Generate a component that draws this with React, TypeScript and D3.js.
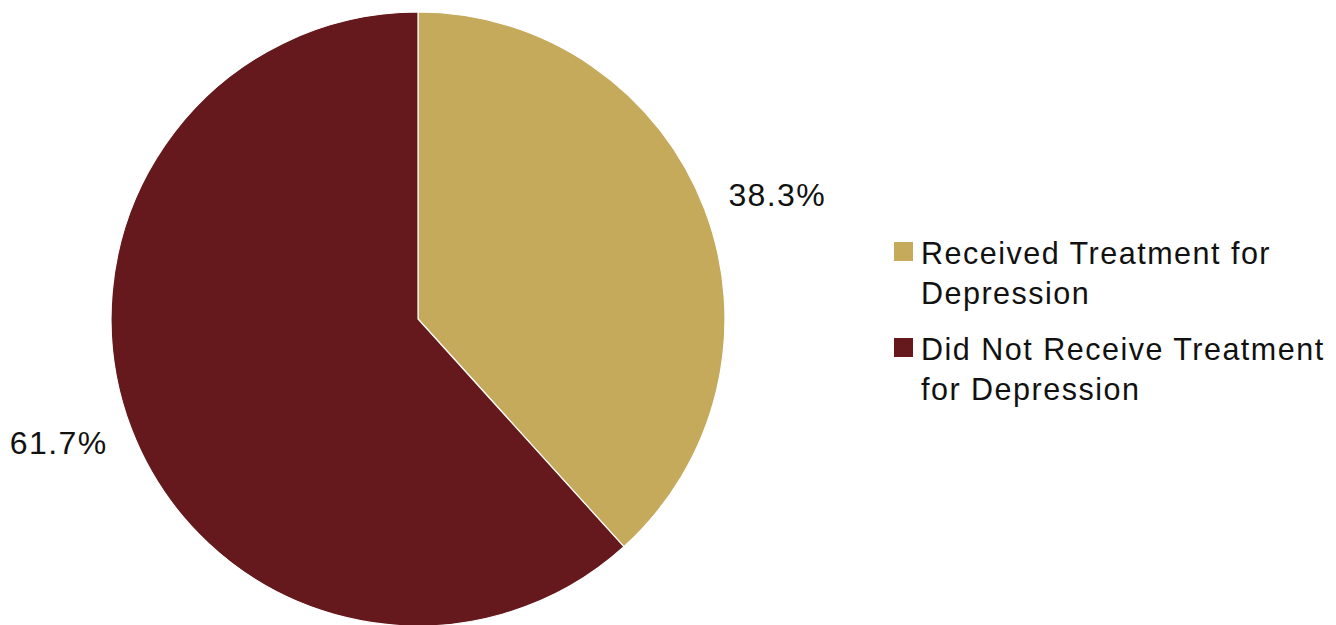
import React from "react";
import * as d3 from "d3";

const categories = ["Received Treatment for Depression", "Did Not Receive Treatment for Depression"];
const values = [38.3, 61.7];
const valueLabels = ["38.3%", "61.7%"];
const legendLines = [["Received Treatment for", "Depression"], ["Did Not Receive Treatment", "for Depression"]];
const colors = ["#C6AA5B", "#65191D"];

export default function App() {
  const width = 1336, height = 625;
  const cx = 418, cy = 319, r = 307;
  const pie = d3.pie<number>().sort(null).value((d) => d);
  const arcs = pie(values);
  const arc = d3.arc<d3.PieArcDatum<number>>().innerRadius(0).outerRadius(r);
  const font = "'Liberation Sans', Arial, Helvetica, sans-serif";
  return (
    <svg width={width} height={height} style={{ position: "absolute", left: 0, top: 0 }}>
      <rect width={width} height={height} fill="#fff" />
      <g transform={`translate(${cx},${cy})`}>
        {arcs.map((a, i) => (
          <path key={i} d={arc(a) || ""} fill={colors[i]} stroke="#fff" strokeWidth={1.2} />
        ))}
        {arcs.map((a, i) => {
          const mid = (a.startAngle + a.endAngle) / 2;
          const x = Math.sin(mid) * 385;
          const y = -Math.cos(mid) * 345;
          return (
            <text key={i} x={x} y={y} textAnchor="middle" dominantBaseline="central" fontFamily={font} fontSize={32} letterSpacing={1.4} fill="#111">
              {valueLabels[i]}
            </text>
          );
        })}
      </g>
      {categories.map((c, i) => {
        const y0 = 242 + i * 96;
        return (
          <g key={c}>
            <rect x={894} y={y0} width={19} height={19} fill={colors[i]} />
            {legendLines[i].map((line, j) => (
              <text key={j} x={921} y={y0 + 21.5 + j * 40} fontFamily={font} fontSize={30.5} letterSpacing={1.5} fill="#111">
                {line}
              </text>
            ))}
          </g>
        );
      })}
    </svg>
  );
}
